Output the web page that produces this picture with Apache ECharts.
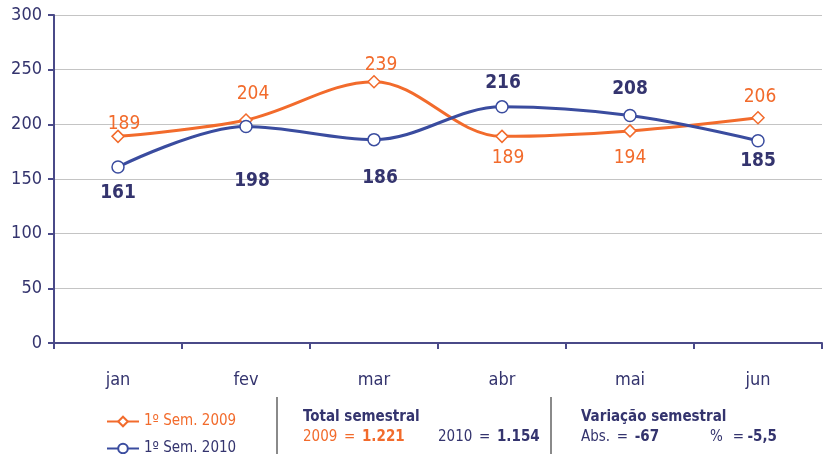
<!DOCTYPE html>
<html>
<head>
<meta charset="utf-8">
<script src="https://cdn.jsdelivr.net/npm/echarts@6/dist/echarts.min.js"></script>
<style>
  html, body { margin: 0; padding: 0; background: #fff; }
  #chart { width: 824px; height: 454px; }
</style>
</head>
<body>
<div id="chart"></div>
<script>
// dados
var meses = ["jan", "fev", "mar", "abr", "mai", "jun"];
var sem2009 = [189, 204, 239, 189, 194, 206];
var sem2010 = [161, 198, 186, 216, 208, 185];
var yTicks = [0, 50, 100, 150, 200, 250, 300];
// posição dos rótulos (acima / abaixo do ponto)
var pos2009 = ["top", "top", "top", "bottom", "bottom", "top"];
var pos2010 = ["bottom", "bottom", "bottom", "top", "top", "bottom"];

var FONT = '"Liberation Sans Narrow", "DejaVu Sans Condensed", sans-serif';
var ORANGE = "#f26b2c";
var BLUE = "#3a4c9f";
var NAVY = "#34346e";

var myChart = echarts.init(document.getElementById("chart"));

// rótulos: distância e deslocamento ajustados à mão
function pontos(vals, pos, dist, dx, dy) {
    return vals.map(function (v, i) {
        return {
            value: v,
            label: { position: pos[i], distance: dist[i], offset: [dx[i], dy[i]] }
        };
    });
}

// uma legenda por série, para ficarem empilhadas
function legenda(nome, cor, top) {
    return {
        left: 106,
        top: top,
        padding: 0,
        itemWidth: 32,
        itemHeight: 12,
        textStyle: { fontFamily: FONT, fontSize: 15, color: cor },
        data: [nome]
    };
}

var option = {
    animation: false,
    textStyle: { fontFamily: FONT },
    grid: { left: 54, right: 2, top: 15, bottom: 111 },
    legend: [
        legenda("1º Sem. 2009", ORANGE, 414),
        legenda("1º Sem. 2010", NAVY, 441)
    ],
    xAxis: {
        type: "category",
        data: meses,
        boundaryGap: true,
        axisLine: { lineStyle: { color: "#4a4a88", width: 2 } },
        axisTick: { show: true, length: 6, lineStyle: { color: "#4a4a88", width: 2 } },
        axisLabel: { color: NAVY, fontSize: 18, margin: 28, fontFamily: FONT }
    },
    yAxis: {
        type: "value",
        min: yTicks[0],
        max: yTicks[yTicks.length - 1],
        interval: 50,
        axisLine: { show: true, lineStyle: { color: "#4a4a88", width: 2 } },
        axisTick: { show: true, length: 6, lineStyle: { color: "#4a4a88", width: 2 } },
        axisLabel: { color: NAVY, fontSize: 18, margin: 12, fontFamily: FONT },
        splitLine: { lineStyle: { color: "#c4c4c4", width: 1 } }
    },
    series: [
        {
            name: "1º Sem. 2009",
            type: "line",
            smooth: 0.35,
            data: pontos(sem2009, pos2009,
                [0, 10, 0, 5, 11, 4],
                [6, 7, 7, 6, 0, 2],
                [4, 0, 0, 0, 0, 0]),
            symbol: "diamond",
            symbolSize: 12,
            lineStyle: { color: ORANGE, width: 3 },
            itemStyle: { color: "#fff", borderColor: ORANGE, borderWidth: 1.5 },
            label: { show: true, color: ORANGE, fontSize: 19, fontFamily: FONT }
        },
        {
            name: "1º Sem. 2010",
            type: "line",
            smooth: 0.35,
            data: pontos(sem2010, pos2010,
                [10, 38, 22, 8, 10, 4],
                [0, 6, 6, 1, 0, 0],
                [0, 0, 0, 0, 0, 0]),
            symbol: "circle",
            symbolSize: 12,
            lineStyle: { color: BLUE, width: 3 },
            itemStyle: { color: "#fff", borderColor: BLUE, borderWidth: 1.5 },
            label: { show: true, color: NAVY, fontSize: 19, fontWeight: "bold", fontFamily: FONT }
        }
    ],
    graphic: [
        { type: "line", shape: { x1: 277, y1: 397, x2: 277, y2: 454 }, style: { stroke: "#8a8a8a", lineWidth: 2 } },
        { type: "line", shape: { x1: 551, y1: 397, x2: 551, y2: 454 }, style: { stroke: "#8a8a8a", lineWidth: 2 } },
        { type: "text", left: 303, top: 410, style: { text: "Total semestral", fill: NAVY, font: "bold 15px " + FONT } },
        {
            type: "text", left: 303, top: 430,
            style: {
                text: "{a|2009}  {a|=}  {b|1.221}",
                rich: {
                    a: { fill: ORANGE, font: "15px " + FONT },
                    b: { fill: ORANGE, font: "bold 15px " + FONT }
                }
            }
        },
        {
            type: "text", left: 438, top: 430,
            style: {
                text: "{a|2010}  {a|=}  {b|1.154}",
                rich: {
                    a: { fill: NAVY, font: "15px " + FONT },
                    b: { fill: NAVY, font: "bold 15px " + FONT }
                }
            }
        },
        { type: "text", left: 581, top: 410, style: { text: "Variação semestral", fill: NAVY, font: "bold 15px " + FONT } },
        {
            type: "text", left: 581, top: 430,
            style: {
                text: "{a|Abs.}  {a|=}  {b|-67}",
                rich: {
                    a: { fill: NAVY, font: "15px " + FONT },
                    b: { fill: NAVY, font: "bold 15px " + FONT }
                }
            }
        },
        {
            type: "text", left: 710, top: 430,
            style: {
                text: "{a|%}   {a|=} {b|-5,5}",
                rich: {
                    a: { fill: NAVY, font: "15px " + FONT },
                    b: { fill: NAVY, font: "bold 15px " + FONT }
                }
            }
        }
    ]
};

myChart.setOption(option);
</script>
</body>
</html>
